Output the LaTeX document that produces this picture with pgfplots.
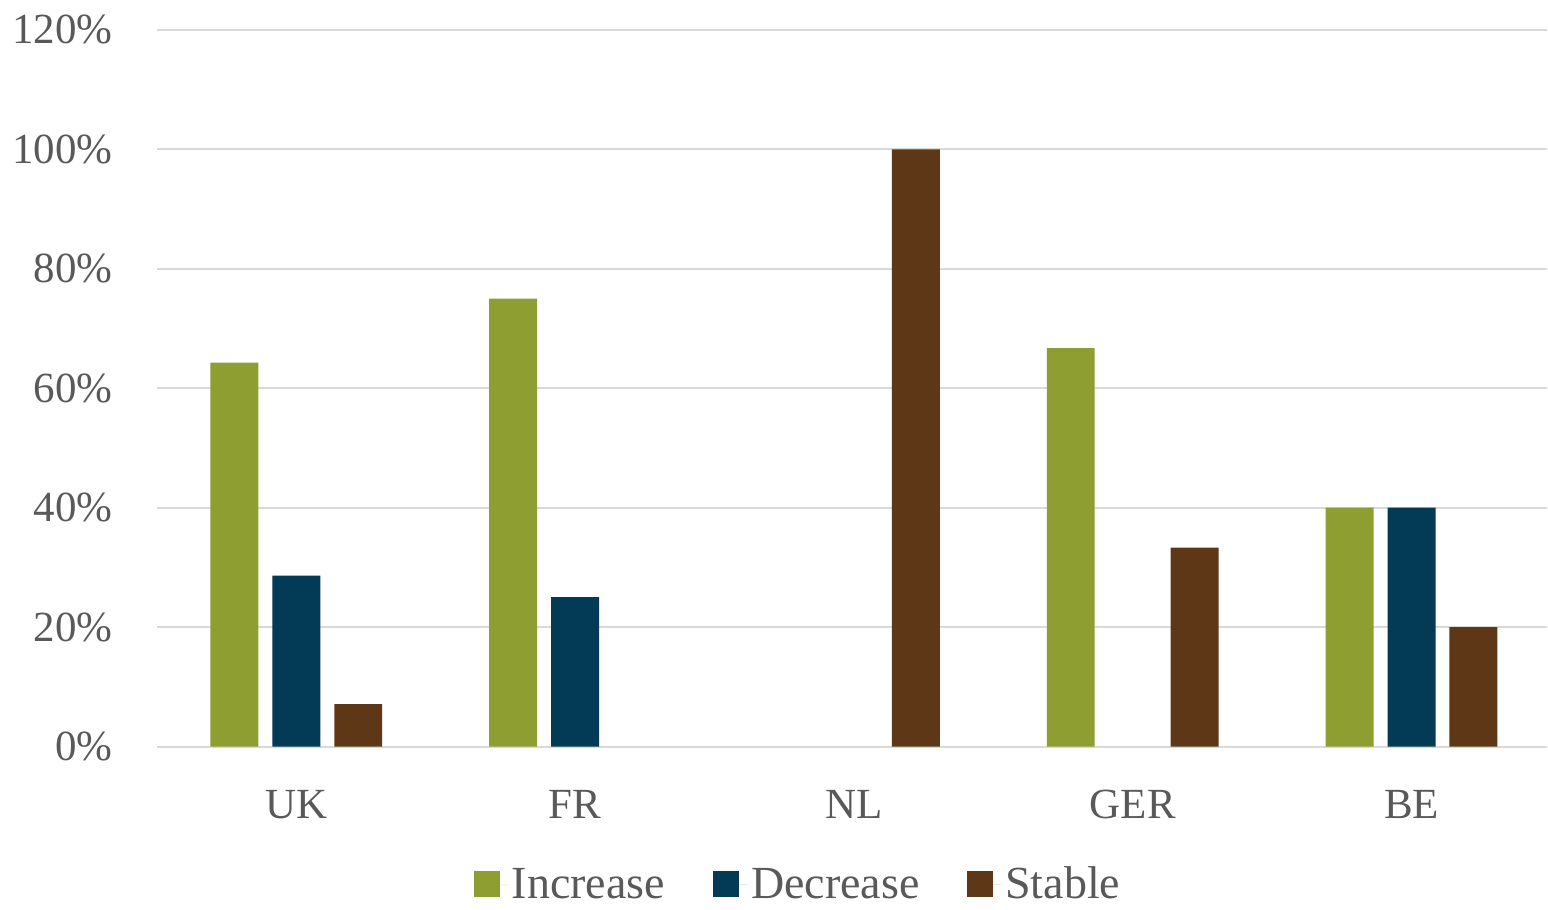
\documentclass[border=0pt]{standalone}
\usepackage{fontspec}
\setmainfont{Liberation Serif}
\usepackage{pgfplots}
\pgfplotsset{compat=1.18}

\definecolor{incr}{HTML}{8F9E31}
\definecolor{decr}{HTML}{033A56}
\definecolor{stab}{HTML}{5E3816}
\definecolor{txtgray}{HTML}{595959}
\definecolor{linegray}{HTML}{D9D9D9}

\begin{document}
\begin{tikzpicture}
\begin{axis}[
  scale only axis,
  width=695.5pt, height=358.5pt,
  ybar, bar width=24pt,
  xmin=-0.5, xmax=4.486,
  ymin=0, ymax=120,
  xtick={0,1,2,3,4},
  xticklabels={UK,FR,NL,GER,BE},
  ytick={0,20,40,60,80,100,120},
  yticklabels={0\%,20\%,40\%,60\%,80\%,100\%,120\%},
  major tick length=0pt,
  ymajorgrids, xmajorgrids=false,
  major grid style={draw=linegray, line width=1pt},
  axis x line*=bottom,
  axis y line*=left,
  x axis line style={draw=linegray, line width=1pt, -},
  y axis line style={draw=none},
  tick label style={font=\fontsize{21.5}{25}\selectfont, text=txtgray, inner sep=0pt},
  yticklabel style={xshift=-22pt},
  xticklabel style={yshift=-21.5pt},
  legend style={
    at={(0.462,-0.1925)}, anchor=center,
    draw=none, legend columns=-1,
    font=\fontsize{23}{26}\selectfont, text=txtgray,
    /tikz/every even column/.append style={column sep=22pt},
  },
  legend image code/.code={%
    \fill[#1] (0pt,-6.5pt) rectangle (13pt,6.5pt);
    \path (0pt,0pt) -- (17pt,0pt);},
]
% zero shares are left out
\addplot[fill=incr, draw=none, bar shift=-31pt] coordinates {(0,64.3) (1,75) (3,66.7) (4,40)};
\addplot[fill=decr, draw=none, bar shift=0pt] coordinates {(0,28.6) (1,25) (4,40)};
\addplot[fill=stab, draw=none, bar shift=31pt] coordinates {(0,7.1) (2,100) (3,33.3) (4,20)};
\legend{Increase,Decrease,Stable}
\end{axis}
\path ([xshift=-78.5pt,yshift=-78pt]current axis.south west) rectangle ([yshift=15pt]current axis.north west -| current axis.south east);
\end{tikzpicture}
\end{document}
